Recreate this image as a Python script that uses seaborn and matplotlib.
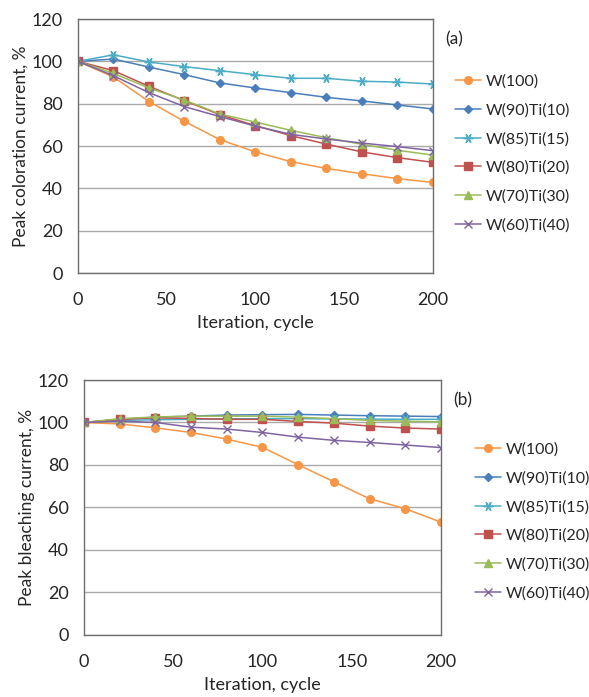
import matplotlib
matplotlib.use("Agg")
import matplotlib.pyplot as plt
import pandas as pd
import seaborn as sns

# data
cycles = [0, 20, 40, 60, 80, 100, 120, 140, 160, 180, 200]
labels = ['W(100)', 'W(90)Ti(10)', 'W(85)Ti(15)', 'W(80)Ti(20)', 'W(70)Ti(30)', 'W(60)Ti(40)']

# (a) peak coloration current, %
col_w100 = [100, 92.6, 81.0, 71.6, 63.0, 57.2, 52.6, 49.4, 46.9, 44.6, 42.8]
col_w90 = [100, 101.1, 97.3, 93.7, 89.8, 87.4, 85.2, 83.0, 81.3, 79.4, 77.5]
col_w85 = [100, 103.1, 99.7, 97.5, 95.6, 93.7, 92.0, 92.0, 90.6, 90.2, 89.3]
col_w80 = [100, 95.6, 88.2, 81.4, 74.8, 69.6, 64.9, 60.9, 57.2, 54.5, 52.3]
col_w70 = [100, 94.3, 87.4, 81.7, 75.1, 71.3, 67.4, 63.9, 60.8, 58.0, 55.7]
col_w60 = [100, 93.2, 85.2, 78.6, 73.9, 69.4, 65.5, 63.3, 61.4, 59.7, 57.8]

# (b) peak bleaching current, %
ble_w100 = [100, 99.3, 97.5, 95.3, 92.2, 88.3, 80.1, 72.1, 64.1, 59.4, 53.1]
ble_w90 = [100, 101.5, 102.5, 103.0, 103.5, 103.7, 103.8, 103.5, 103.2, 103.0, 102.8]
ble_w85 = [100, 101.0, 101.3, 101.5, 101.7, 101.8, 101.8, 101.7, 101.6, 101.5, 101.5]
ble_w80 = [100, 101.5, 102.2, 101.9, 101.5, 101.5, 100.5, 99.7, 98.3, 97.4, 96.9]
ble_w70 = [100, 101.8, 102.6, 103.0, 103.0, 103.0, 102.5, 101.8, 101.0, 100.6, 100.3]
ble_w60 = [100, 100.7, 100.0, 97.8, 96.9, 95.3, 93.1, 91.6, 90.6, 89.4, 88.2]

colors = ['#F79646', '#4A7EBB', '#4BACC6', '#C0504D', '#9BBB59', '#8064A2']
markers = ['o', 'D', (6, 2, 90), 's', '^', 'x']
msizes = [5.5, 4.5, 7, 5.5, 6, 6]

sns.set_style('white')
plt.rcParams['font.family'] = ['Lato', 'DejaVu Sans']

fig = plt.figure(figsize=(5.89, 6.97), dpi=100)
ax1 = fig.add_axes([0.1324, 0.6083, 0.6027, 0.3644])
ax2 = fig.add_axes([0.1426, 0.0890, 0.6061, 0.3658])


def draw_panel(ax, series, ylabel, tag, legend_xy):
    for name, vals, c, m, ms in zip(labels, series, colors, markers, msizes):
        df = pd.DataFrame({'cycle': cycles, 'value': vals})
        sns.lineplot(data=df, x='cycle', y='value', ax=ax, color=c, marker=m,
                     markersize=ms, markeredgecolor=c, markeredgewidth=1.0,
                     linewidth=1.1, label=name)
    ax.set_xlim(0, 200)
    ax.set_ylim(0, 120)
    ax.set_xticks([0, 50, 100, 150, 200])
    ax.set_yticks(range(0, 121, 20))
    ax.yaxis.grid(True, color='#AAAAAA', linewidth=1.0)
    ax.set_axisbelow(True)
    for s in ax.spines.values():
        s.set_color('#6E6E6E')
        s.set_linewidth(1.0)
    ax.tick_params(axis='x', direction='in', length=5, width=1, color='#6E6E6E',
                   pad=14, labelsize=13)
    ax.tick_params(axis='y', length=0, pad=11, labelsize=13)
    ax.set_xlabel('Iteration, cycle', fontsize=13, labelpad=5)
    ax.set_ylabel(ylabel, fontsize=12.5, labelpad=2)
    ax.text(1.035, 0.92, tag, transform=ax.transAxes, fontsize=12.5, ha='left', va='center')
    ax.legend(loc='center left', bbox_to_anchor=legend_xy, bbox_transform=fig.transFigure,
              frameon=False, fontsize=11.5, handlelength=1.6, handletextpad=0.3,
              labelspacing=0.9, borderpad=0, borderaxespad=0)


draw_panel(ax1, [col_w100, col_w90, col_w85, col_w80, col_w70, col_w60],
           'Peak coloration current, %', '(a)', (0.7725, 0.7798))
draw_panel(ax2, [ble_w100, ble_w90, ble_w85, ble_w80, ble_w70, ble_w60],
           'Peak bleaching current, %', '(b)', (0.8065, 0.2518))

fig.savefig('out.png', dpi=100)
